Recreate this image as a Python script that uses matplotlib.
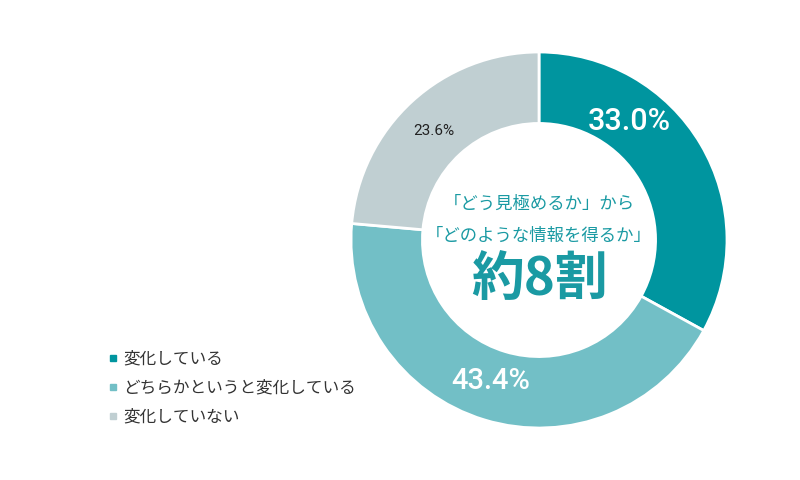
import matplotlib
matplotlib.use('Agg')
import matplotlib.pyplot as plt
from matplotlib.lines import Line2D

plt.rcParams['font.family'] = ['Noto Sans CJK JP', 'DejaVu Sans']

# Data
labels = ['変化している', 'どちらかというと変化している', '変化していない']
values = [33.0, 43.4, 23.6]
colors = ['#00959f', '#72bfc6', '#c0cfd2']
center_lines = ['「どう見極めるか」から', '「どのような情報を得るか」']
center_big = '約8割'

fig = plt.figure(figsize=(8, 4.8), dpi=100)

# donut axes: centre (539,240), radius 188 px
cx, cy, r = 539, 240, 188
ax = fig.add_axes([(cx - r) / 800, (480 - cy - r) / 480, 2 * r / 800, 2 * r / 480])
wedges, _ = ax.pie(values, colors=colors, startangle=90, counterclock=False, radius=1,
                   wedgeprops=dict(width=0.38, edgecolor='white', linewidth=2))
ax.set_xlim(-1, 1)
ax.set_ylim(-1, 1)
ax.set_aspect('equal')
ax.axis('off')

# percentage labels (placed by hand like the original)
pct_pos = [(0.48, 0.63), (-0.255, -0.75), (-0.56, 0.58)]
pct_style = [dict(color='white', fontsize=22, fontweight='medium'),
             dict(color='white', fontsize=21, fontweight='medium'),
             dict(color='#222222', fontsize=11)]
for (x, y), v, st in zip(pct_pos, values, pct_style):
    ax.text(x, y, '%.1f%%' % v, ha='center', va='center',
            family=['Roboto', 'DejaVu Sans'], **st)

teal = '#1a9aa3'
ax.text(0, 0.19, center_lines[0], ha='center', va='center', fontsize=12.5, color=teal)
ax.text(0, 0.02, center_lines[1], ha='center', va='center', fontsize=12.5, color=teal)
ax.text(0, -0.21, center_big, ha='center', va='center', fontsize=38, color=teal,
        fontweight='bold')

handles = [Line2D([], [], marker='s', linestyle='none', markersize=5, color=c)
           for c in colors]
fig.legend(handles, labels, loc='upper left', bbox_to_anchor=(100 / 800, 1 - 342 / 480),
           frameon=False, fontsize=12, labelcolor='#333333', handlelength=0.6,
           handletextpad=0.3, labelspacing=0.72, borderpad=0)

plt.savefig('out.png', dpi=100)
